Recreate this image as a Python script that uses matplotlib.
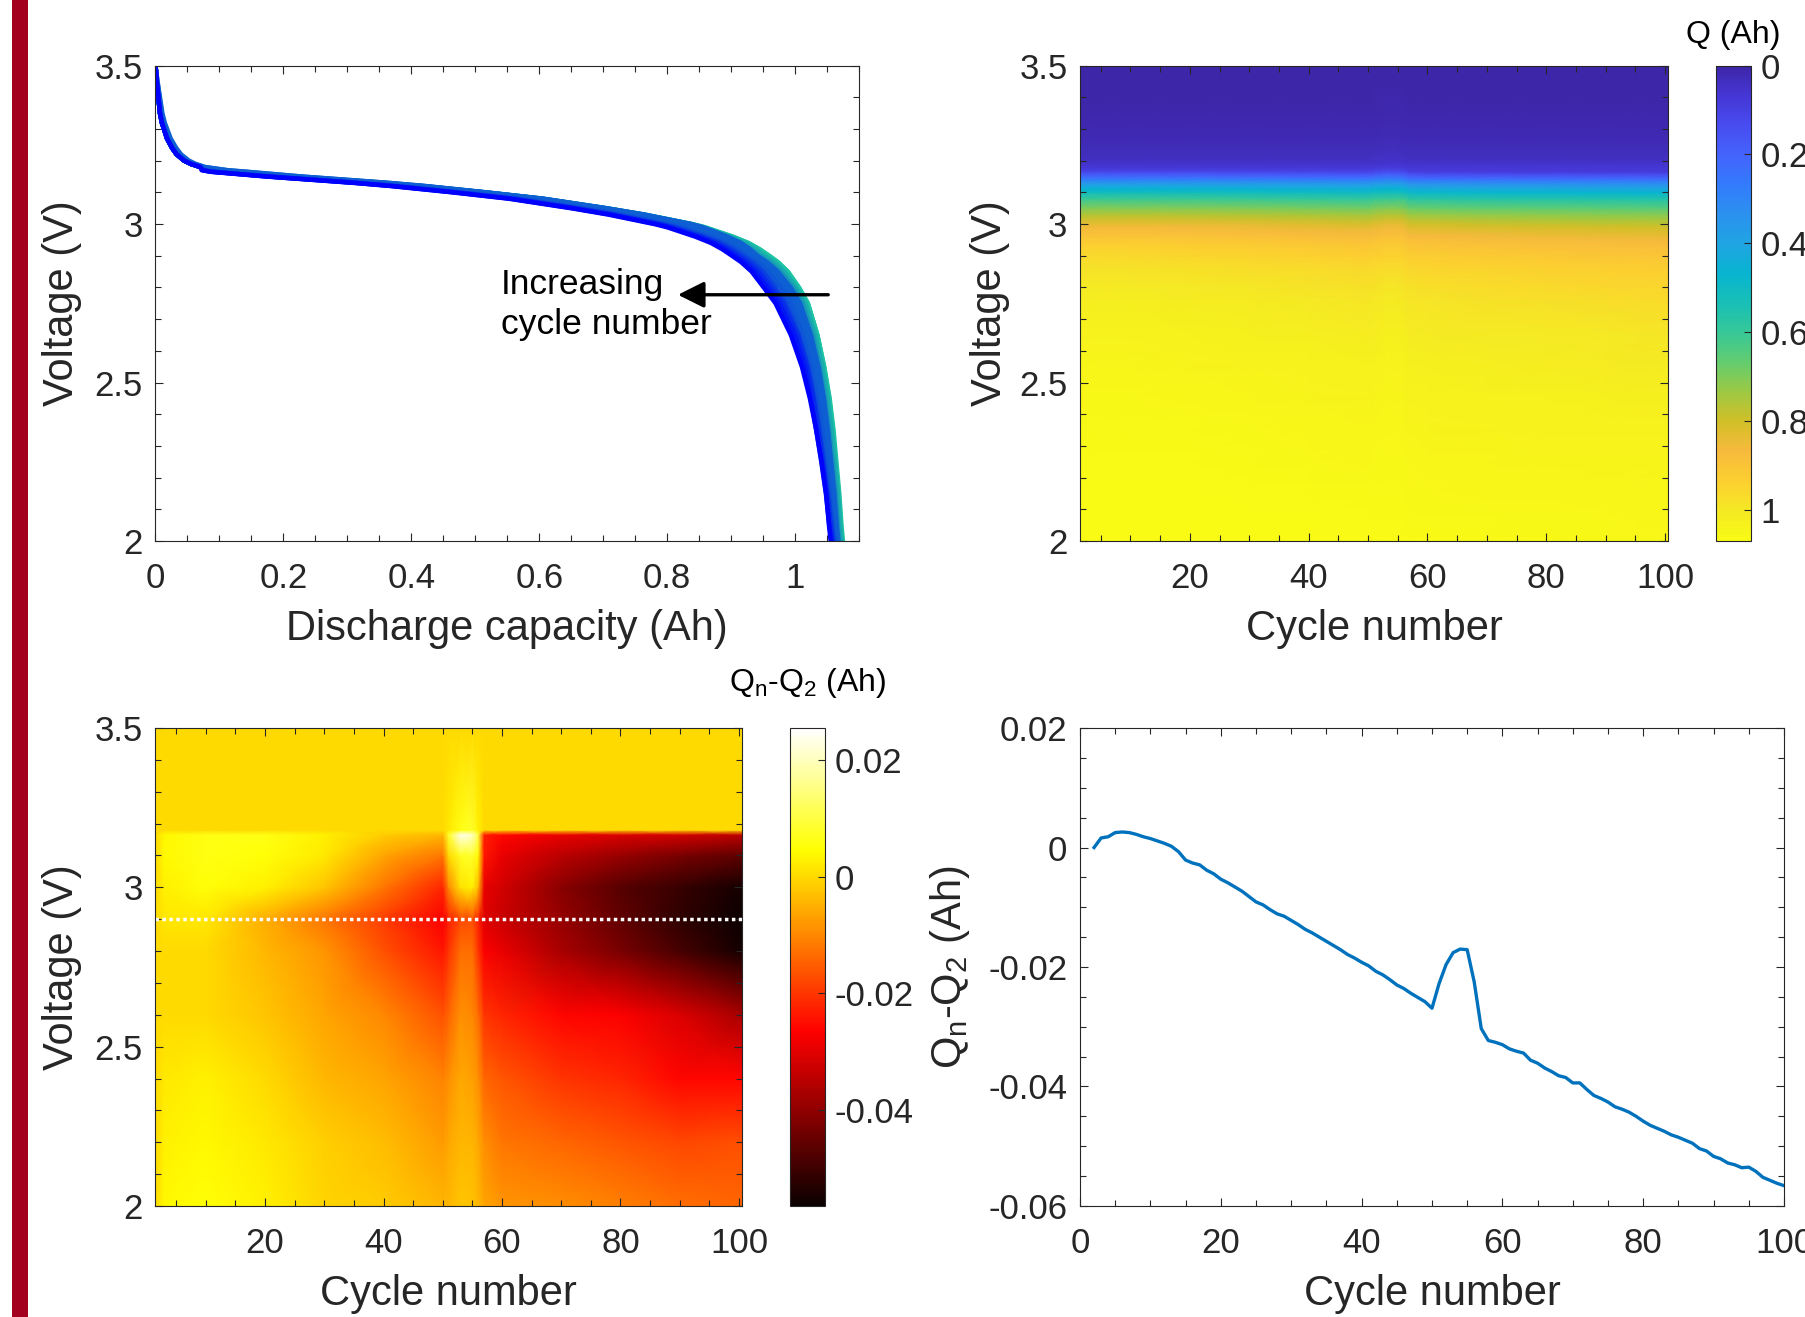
import numpy as np
import matplotlib
matplotlib.use('Agg')
import matplotlib.pyplot as plt
from matplotlib.colors import LinearSegmentedColormap
from matplotlib.ticker import MultipleLocator
from matplotlib.patches import Rectangle

plt.rcParams['font.family'] = ['Liberation Sans', 'DejaVu Sans']
plt.rcParams['mathtext.fontset'] = 'custom'
plt.rcParams['mathtext.rm'] = 'Liberation Sans'
plt.rcParams['mathtext.it'] = 'Liberation Sans'
plt.rcParams['axes.unicode_minus'] = False

# ---- values ----

# discharge curve of cycle 2: voltage (V) and capacity (Ah)
volt_pts = np.array([3.50, 3.45, 3.41, 3.35, 3.32, 3.27, 3.24, 3.22, 3.20, 3.19,
                     3.18, 3.17, 3.165, 3.16, 3.15, 3.14, 3.13, 3.12, 3.11, 3.10,
                     3.08, 3.05, 3.03, 3.02, 3.00, 2.99, 2.97, 2.96, 2.94, 2.92,
                     2.90, 2.88, 2.85, 2.80, 2.75, 2.65, 2.55, 2.45, 2.35, 2.25,
                     2.15, 2.05, 2.00])
q2_pts = np.array([0.000, 0.002, 0.004, 0.007, 0.010, 0.018, 0.026, 0.033, 0.045, 0.055,
                   0.070, 0.095, 0.120, 0.150, 0.210, 0.280, 0.350, 0.410, 0.460, 0.510,
                   0.600, 0.700, 0.760, 0.785, 0.835, 0.855, 0.885, 0.900, 0.925, 0.943,
                   0.958, 0.972, 0.988, 1.006, 1.020, 1.035, 1.045, 1.052, 1.057, 1.061,
                   1.065, 1.068, 1.070])

# Qn - Q2 at 2.9 V for cycles 2..100
cycles = np.arange(2, 101)
dq_29 = np.array([
    0.0000, 0.0016, 0.0018, 0.0025, 0.0026, 0.0025, 0.0022, 0.0018, 0.0015, 0.0011,
    0.0007, 0.0002, -0.0007, -0.0021, -0.0026, -0.0029, -0.0038, -0.0044, -0.0053, -0.0059,
    -0.0066, -0.0073, -0.0082, -0.0091, -0.0096, -0.0104, -0.0111, -0.0115, -0.0122, -0.0129,
    -0.0137, -0.0143, -0.0150, -0.0157, -0.0164, -0.0171, -0.0179, -0.0185, -0.0192, -0.0198,
    -0.0207, -0.0213, -0.0221, -0.0230, -0.0236, -0.0244, -0.0251, -0.0258, -0.0269, -0.0228,
    -0.0196, -0.0176, -0.0170, -0.0171, -0.0225, -0.0303, -0.0323, -0.0326, -0.0330, -0.0337,
    -0.0341, -0.0344, -0.0356, -0.0361, -0.0369, -0.0375, -0.0382, -0.0385, -0.0394, -0.0394,
    -0.0405, -0.0415, -0.0420, -0.0426, -0.0434, -0.0438, -0.0443, -0.0450, -0.0458, -0.0465,
    -0.0470, -0.0475, -0.0481, -0.0485, -0.0490, -0.0495, -0.0504, -0.0508, -0.0517, -0.0521,
    -0.0528, -0.0531, -0.0536, -0.0535, -0.0542, -0.0552, -0.0557, -0.0562, -0.0566])

grid_cycles = np.array([2, 3, 10, 20, 30, 40, 50, 51, 53, 55, 56, 57, 60, 70, 80, 90, 100])
grid_volts = np.array([2.0, 2.2, 2.4, 2.6, 2.8, 2.9, 3.0, 3.1, 3.165, 3.18, 3.5])
dq_200 = [0, 0.004, 0.005, 0.003, -0.0005, -0.0015, -0.0045, -0.004, -0.0025, -0.003, -0.004, -0.0065, -0.0083, -0.0093, -0.011, -0.013, -0.0142]
dq_220 = [0, 0.003, 0.004, 0.002, -0.0012, -0.0035, -0.0075, -0.006, -0.004, -0.0045, -0.006, -0.0093, -0.012, -0.0142, -0.016, -0.018, -0.017]
dq_240 = [0, 0.002, 0.003, 0.0, -0.004, -0.0065, -0.0104, -0.009, -0.006, -0.007, -0.009, -0.0142, -0.016, -0.020, -0.022, -0.0258, -0.026]
dq_260 = [0, 0.0, 0.0, -0.0025, -0.0065, -0.010, -0.0165, -0.014, -0.009, -0.010, -0.013, -0.020, -0.022, -0.026, -0.027, -0.031, -0.037]
dq_280 = [0, 0.0, 0.0, -0.004, -0.0083, -0.0165, -0.024, -0.020, -0.013, -0.013, -0.020, -0.027, -0.029, -0.037, -0.043, -0.049, -0.055]
dq_300 = [0, 0.003, 0.005, 0.003, -0.0025, -0.0122, -0.022, -0.010, 0.001, 0.003, -0.004, -0.029, -0.032, -0.041, -0.047, -0.051, -0.055]
dq_310 = [0, 0.004, 0.006, 0.005, 0.002, -0.0065, -0.0122, 0.0, 0.007, 0.008, 0.004, -0.024, -0.029, -0.035, -0.039, -0.043, -0.046]
dq_3165 = [0, 0.004, 0.006, 0.006, 0.003, -0.0015, -0.004, 0.008, 0.024, 0.021, 0.010, -0.023, -0.026, -0.029, -0.031, -0.032, -0.0345]
dq_318 = [0, 0, 0, 0, 0, 0, 0, 0.002, 0.006, 0.008, 0.003, 0, 0, 0, 0, 0, 0]
dq_350 = [0] * 17

dq_grid = np.array([dq_200, dq_220, dq_240, dq_260, dq_280, dq_29[grid_cycles - 2],
                    dq_300, dq_310, dq_3165, dq_318, dq_350])

# ---- colormaps ----
parula = LinearSegmentedColormap.from_list('parula', [
    (0.2422, 0.1504, 0.6603), (0.2706, 0.2147, 0.8364), (0.2813, 0.3006, 0.9414),
    (0.2699, 0.3892, 0.9906), (0.1963, 0.4847, 0.9892), (0.1687, 0.5703, 0.9359),
    (0.1248, 0.6459, 0.8883), (0.0297, 0.7082, 0.8163), (0.0964, 0.7500, 0.7120),
    (0.2161, 0.7843, 0.5923), (0.3909, 0.8029, 0.4354), (0.6174, 0.7876, 0.2612),
    (0.8203, 0.7498, 0.1535), (0.9728, 0.7298, 0.2394), (0.9892, 0.8136, 0.1885),
    (0.9597, 0.9135, 0.1423), (0.9769, 0.9839, 0.0805)])
line_cmap = LinearSegmentedColormap.from_list('cyc', ['#0000ff', '#1fd49c'])

ink = '#262626'


def style(ax, xminor, yminor):
    for s in ax.spines.values():
        s.set_color(ink)
        s.set_linewidth(0.8)
    ax.tick_params(which='both', direction='in', top=True, right=True,
                   colors=ink, labelcolor=ink, labelsize=25, width=0.8)
    ax.tick_params(which='major', length=6)
    ax.tick_params(which='minor', length=4)
    ax.tick_params(axis='x', pad=15)
    ax.tick_params(axis='y', pad=9)
    ax.xaxis.set_minor_locator(MultipleLocator(xminor))
    ax.yaxis.set_minor_locator(MultipleLocator(yminor))


fig = plt.figure(figsize=(18.06, 13.17), dpi=100)
fig.patches.append(Rectangle((12 / 1806, 0), 16 / 1806, 1, transform=fig.transFigure,
                             facecolor='#a3001f', edgecolor='none'))

ax1 = fig.add_axes([0.0861, 0.5892, 0.3895, 0.3610])
ax2 = fig.add_axes([0.5980, 0.5892, 0.3256, 0.3610])
cax2 = fig.add_axes([0.9502, 0.5892, 0.0194, 0.3610])
ax3 = fig.add_axes([0.0861, 0.0843, 0.3247, 0.3629])
cax3 = fig.add_axes([0.4374, 0.0843, 0.0194, 0.3629])
ax4 = fig.add_axes([0.5980, 0.0843, 0.3898, 0.3629])

# Qn - Q2 evaluated on the cycle-2 voltage points
dq_on_curve = np.array([np.interp(volt_pts, grid_volts, dq_grid[:, j])
                        for j in range(len(grid_cycles))]).T
q_curves = q2_pts[:, None] + dq_on_curve

# panel a: discharge curves
for j, c in enumerate(grid_cycles):
    ax1.plot(q_curves[:, j], volt_pts, color=line_cmap((100 - c) / 98), lw=3.2,
             solid_capstyle='round', solid_joinstyle='round')
ax1.set_xlim(0, 1.1)
ax1.set_ylim(2, 3.5)
ax1.set_xticks([0, 0.2, 0.4, 0.6, 0.8, 1])
ax1.set_xticklabels(['0', '0.2', '0.4', '0.6', '0.8', '1'])
ax1.set_yticks([2, 2.5, 3, 3.5])
ax1.set_yticklabels(['2', '2.5', '3', '3.5'])
style(ax1, 0.05, 0.1)
ax1.set_xlabel('Discharge capacity (Ah)', fontsize=30, color=ink, labelpad=10)
ax1.set_ylabel('Voltage (V)', fontsize=30, color=ink, labelpad=9)
ax1.annotate('', xy=(0.817, 2.777), xytext=(1.052, 2.777),
             arrowprops=dict(arrowstyle='-|>', lw=2.4, color='black',
                             mutation_scale=40, shrinkA=0, shrinkB=0))
ax1.text(0.54, 2.746, 'Increasing\ncycle number', fontsize=25.5, ha='left', va='center',
         linespacing=1.3, color='black')

# shared x nodes for the maps (cell edges of the first/last cycle)
xnodes = grid_cycles.astype(float)
xnodes[0] = 1.5
xnodes[-1] = 100.5

# panel b: Q map
order = np.argsort(volt_pts)
m2 = ax2.pcolormesh(xnodes, volt_pts[order], q_curves[order], shading='gouraud',
                    cmap=parula, vmin=0, vmax=1.07, rasterized=True)
ax2.set_xlim(1.5, 100.5)
ax2.set_ylim(2, 3.5)
ax2.set_xticks([20, 40, 60, 80, 100])
ax2.set_yticks([2, 2.5, 3, 3.5])
ax2.set_yticklabels(['2', '2.5', '3', '3.5'])
style(ax2, 5, 0.1)
ax2.set_xlabel('Cycle number', fontsize=30, color=ink, labelpad=10)
ax2.set_ylabel('Voltage (V)', fontsize=30, color=ink, labelpad=7)
cb2 = fig.colorbar(m2, cax=cax2)
cb2.ax.invert_yaxis()
cb2.set_ticks([0, 0.2, 0.4, 0.6, 0.8, 1])
cb2.set_ticklabels(['0', '0.2', '0.4', '0.6', '0.8', '1'])
cb2.ax.tick_params(direction='in', length=5, width=0.8, colors=ink, labelsize=25, pad=7)
cb2.outline.set_edgecolor(ink)
cb2.outline.set_linewidth(0.8)
cb2.ax.set_title('Q (Ah)', fontsize=23, color='black', pad=16)

# panel c: Qn - Q2 map
m3 = ax3.pcolormesh(xnodes, grid_volts, dq_grid, shading='gouraud',
                    cmap='hot', vmin=-0.0565, vmax=0.0255, rasterized=True)
ax3.axhline(2.9, color='white', lw=2.5, linestyle=(0, (1, 1)), dash_capstyle='butt')
ax3.set_xlim(1.5, 100.5)
ax3.set_ylim(2, 3.5)
ax3.set_xticks([20, 40, 60, 80, 100])
ax3.set_yticks([2, 2.5, 3, 3.5])
ax3.set_yticklabels(['2', '2.5', '3', '3.5'])
style(ax3, 5, 0.1)
ax3.set_xlabel('Cycle number', fontsize=30, color=ink, labelpad=10)
ax3.set_ylabel('Voltage (V)', fontsize=30, color=ink, labelpad=9)
cb3 = fig.colorbar(m3, cax=cax3)
cb3.set_ticks([-0.04, -0.02, 0, 0.02])
cb3.set_ticklabels(['-0.04', '-0.02', '0', '0.02'])
cb3.ax.tick_params(direction='in', length=5, width=0.8, colors=ink, labelsize=25, pad=7)
cb3.outline.set_edgecolor(ink)
cb3.outline.set_linewidth(0.8)
cb3.ax.set_title(r'Q$_\mathregular{n}$-Q$_\mathregular{2}$ (Ah)', fontsize=23,
                 color='black', pad=27)

# panel d: Qn - Q2 at 2.9 V
ax4.plot(cycles, dq_29, color=(0, 0.447, 0.741), lw=2.4)
ax4.set_xlim(0, 100)
ax4.set_ylim(-0.06, 0.02)
ax4.set_xticks([0, 20, 40, 60, 80, 100])
ax4.set_yticks([-0.06, -0.04, -0.02, 0, 0.02])
ax4.set_yticklabels(['-0.06', '-0.04', '-0.02', '0', '0.02'])
style(ax4, 5, 0.005)
ax4.set_xlabel('Cycle number', fontsize=30, color=ink, labelpad=10)
ax4.set_ylabel(r'Q$_\mathregular{n}$-Q$_\mathregular{2}$ (Ah)', fontsize=30, color=ink,
               labelpad=12)

fig.savefig('out.png', dpi=100)
